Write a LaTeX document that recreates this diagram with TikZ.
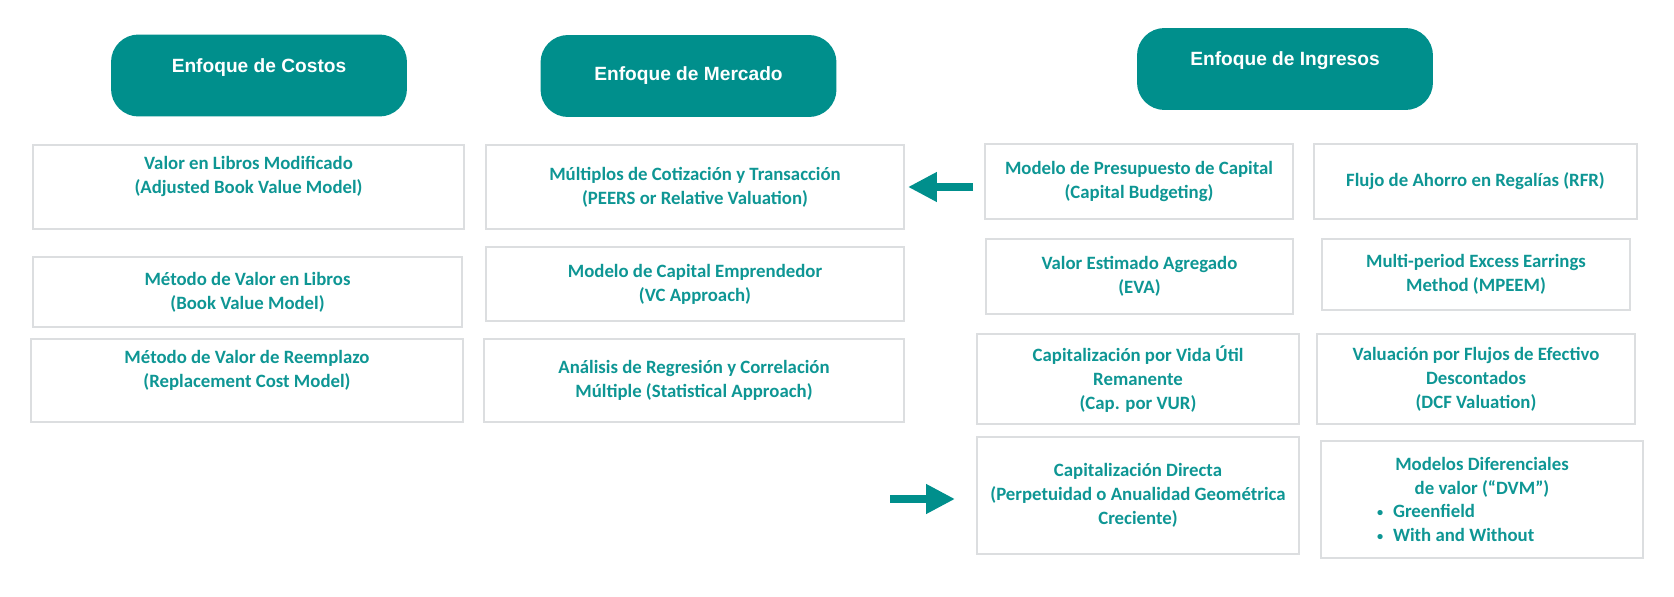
\documentclass[tikz,border=0pt]{standalone}
\usepackage{fontspec}
\setmainfont{Carlito}
\newfontfamily\hdrfont{Liberation Sans}
\usetikzlibrary{arrows.meta}

\definecolor{hdrteal}{RGB}{0,143,140}
\definecolor{txtteal}{RGB}{14,150,148}
\definecolor{boxline}{RGB}{220,222,224}

\newcommand{\dvmitem}[1]{\makebox[4.2cm][l]{\makebox[0.32cm][l]{\raisebox{0.2ex}{\scriptsize\textbullet}}#1}}

\tikzset{
	hdr/.style={fill=hdrteal, rounded corners=0.55cm, minimum width=5.92cm, minimum height=1.64cm,
		text=white, font=\hdrfont\bfseries\fontsize{10.9}{13}\selectfont},
	mbox/.style={draw=boxline, line width=0.04cm, align=center, inner sep=0pt,
		text=txtteal, font=\bfseries\fontsize{10.7}{13.6}\selectfont},
	blockarrow/.style={hdrteal, line width=0.16cm, -{Triangle[length=0.58cm, width=0.56cm]}},
}

\begin{document}
\begin{tikzpicture}[x=0.02cm, y=-0.02cm]
		\useasboundingbox (0, 0) rectangle (1674, 597);

		%%% Headers
		\node[hdr, text depth=0.4cm] (costos) at (259, 75.5) {Enfoque de Costos};
		\node[hdr] (mercado) at (688.5, 76) {Enfoque de Mercado};
		\node[hdr, text depth=0.4cm] (ingresos) at (1285, 69) {Enfoque de Ingresos};

		%%% Costos
		\node[mbox, minimum width=8.62cm, minimum height=1.68cm, text depth=0.47cm] (a1) at (248.5, 187)
			{Valor en Libros Modificado\\(Adjusted Book Value Model)};
		\node[mbox, minimum width=8.58cm, minimum height=1.40cm] (a2) at (247.5, 292)
			{Método de Valor en Libros\\(Book Value Model)};
		\node[mbox, minimum width=8.64cm, minimum height=1.66cm, text depth=0.47cm] (a3) at (247, 380.5)
			{Método de Valor de Reemplazo\\(Replacement Cost Model)};

		%%% Mercado
		\node[mbox, minimum width=8.36cm, minimum height=1.68cm] (b1) at (695, 187)
			{Múltiplos de Cotización y Transacción\\(PEERS or Relative Valuation)};
		\node[mbox, minimum width=8.36cm, minimum height=1.48cm] (b2) at (695, 284)
			{Modelo de Capital Emprendedor\\(VC Approach)};
		\node[mbox, minimum width=8.40cm, minimum height=1.66cm] (b3) at (694, 380.5)
			{Análisis de Regresión y Correlación\\Múltiple (Statistical Approach)};

		%%% Ingresos, first column
		\node[mbox, minimum width=6.16cm, minimum height=1.50cm] (c1) at (1139, 181.5)
			{Modelo de Presupuesto de Capital\\(Capital Budgeting)};
		\node[mbox, minimum width=6.14cm, minimum height=1.50cm] (c2) at (1139.5, 276.5)
			{Valor Estimado Agregado\\(EVA)};
		\node[mbox, minimum width=6.44cm, minimum height=1.80cm] (c3) at (1138, 379)
			{Capitalización por Vida Útil\\Remanente\\(Cap. por VUR)};
		\node[mbox, minimum width=6.44cm, minimum height=2.34cm] (c4) at (1138, 495.5)
			{Capitalización Directa\\(Perpetuidad o Anualidad Geométrica\\Creciente)};

		%%% Ingresos, second column
		\node[mbox, minimum width=6.46cm, minimum height=1.50cm] (d1) at (1475.5, 181.5)
			{Flujo de Ahorro en Regalías (RFR)};
		\node[mbox, minimum width=6.16cm, minimum height=1.42cm] (d2) at (1476, 274.5)
			{Multi-period Excess Earrings\\Method (MPEEM)};
		\node[mbox, minimum width=6.36cm, minimum height=1.80cm] (d3) at (1476, 379)
			{Valuación por Flujos de Efectivo\\Descontados\\(DCF Valuation)};
		\node[mbox, minimum width=6.44cm, minimum height=2.34cm] (d4) at (1482, 499.5)
			{Modelos Diferenciales\\de valor (“DVM”)\\\dvmitem{Greenfield}\\\dvmitem{With and Without}};

		%%% Arrows
		\draw[blockarrow, shorten <=0.22cm, shorten >=0.06cm] (c1.west |- b1.east) -- (b1.east);
		\coordinate (capin) at (890, 499);
		\draw[blockarrow, shorten >=0.42cm] (capin) -- (capin -| c4.west);
\end{tikzpicture}
\end{document}
